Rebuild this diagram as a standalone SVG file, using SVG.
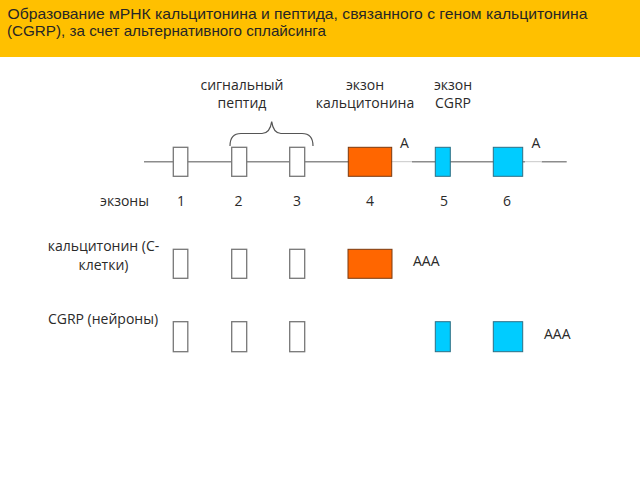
<svg xmlns="http://www.w3.org/2000/svg" width="640" height="480" viewBox="0 0 640 480">
<style>
text{font-family:"Open Sans","Noto Sans","DejaVu Sans",sans-serif;fill:#2a2a2a;font-size:14px}
.t{font-family:"Liberation Sans",Arial,sans-serif;font-size:15px;fill:#262626}
.m{text-anchor:middle}
.w{fill:#fff;stroke:#777;stroke-width:1.3}
.o{fill:#ff6600;stroke:#7a3a10;stroke-width:1}
.c{fill:#00ccff;stroke:#2d6e84;stroke-width:1}
.ln{stroke:#8c8c8c;stroke-width:1.6;fill:none}
.lt{stroke:#c8c8c8;stroke-width:1;fill:none}
</style>
<rect x="0" y="0" width="640" height="57" fill="#ffc000"/>
<text class="t" x="7.5" y="18.5" textLength="580" lengthAdjust="spacingAndGlyphs">Образование мРНК кальцитонина и пептида, связанного с геном кальцитонина</text>
<text class="t" x="7" y="36" textLength="319" lengthAdjust="spacingAndGlyphs">(CGRP), за счет альтернативного сплайсинга</text>

<g id="labels">
<text class="m" x="242" y="90">сигнальный</text>
<text class="m" x="242" y="108">пептид</text>
<text class="m" x="365" y="90">экзон</text>
<text class="m" x="365" y="108">кальцитонина</text>
<text class="m" x="453" y="90">экзон</text>
<text class="m" x="453" y="108">CGRP</text>
</g>

<g id="connectors">
<path class="ln" d="M144,161.7H392M412,161.7H525M541.7,161.7H566.7"/>
<path class="lt" d="M392,161.7H412M525,161.7H541.7"/>
<path d="M230,146 Q230,133.5 241,133.5 L262,133.5 Q270,133.5 271.7,121.7 Q273.4,133.5 281,133.5 L302,133.5 Q313,133.5 313,146" fill="none" stroke="#555" stroke-width="1.2"/>
</g>

<g id="gene">
<rect class="w" x="173.3" y="147.3" width="14.5" height="29"/>
<rect class="w" x="231.7" y="147.3" width="15" height="29"/>
<rect class="w" x="289.7" y="147.3" width="15" height="29"/>
<rect class="o" x="348.3" y="147.3" width="43.4" height="29"/>
<rect class="c" x="435.3" y="147.3" width="15" height="29"/>
<rect class="c" x="493.3" y="147.3" width="29.4" height="29"/>
<text class="m" x="404.5" y="148.3">A</text>
<text class="m" x="536" y="148.3">A</text>
</g>

<g id="exon-numbers">
<text x="100" y="206">экзоны</text>
<text class="m" x="181" y="206">1</text>
<text class="m" x="238.5" y="206">2</text>
<text class="m" x="297" y="206">3</text>
<text class="m" x="370" y="206">4</text>
<text class="m" x="444" y="206">5</text>
<text class="m" x="507" y="206">6</text>
</g>

<g id="calcitonin-mrna">
<text class="m" x="103.5" y="251">кальцитонин (С-</text>
<text class="m" x="103.5" y="270">клетки)</text>
<rect class="w" x="173.3" y="249.3" width="14.5" height="29"/>
<rect class="w" x="231.7" y="249.3" width="15" height="29"/>
<rect class="w" x="289.7" y="249.3" width="15" height="29"/>
<rect class="o" x="348" y="249.3" width="44" height="29"/>
<text x="413" y="265.5">AAA</text>
</g>

<g id="cgrp-mrna">
<text class="m" x="103" y="324">CGRP (нейроны)</text>
<rect class="w" x="173.3" y="321.7" width="14.5" height="30"/>
<rect class="w" x="231.7" y="321.7" width="15" height="30"/>
<rect class="w" x="289.7" y="321.7" width="15" height="30"/>
<rect class="c" x="435.3" y="321.7" width="15" height="30"/>
<rect class="c" x="493.3" y="321.7" width="29.4" height="30"/>
<text x="544" y="339">AAA</text>
</g>
</svg>
